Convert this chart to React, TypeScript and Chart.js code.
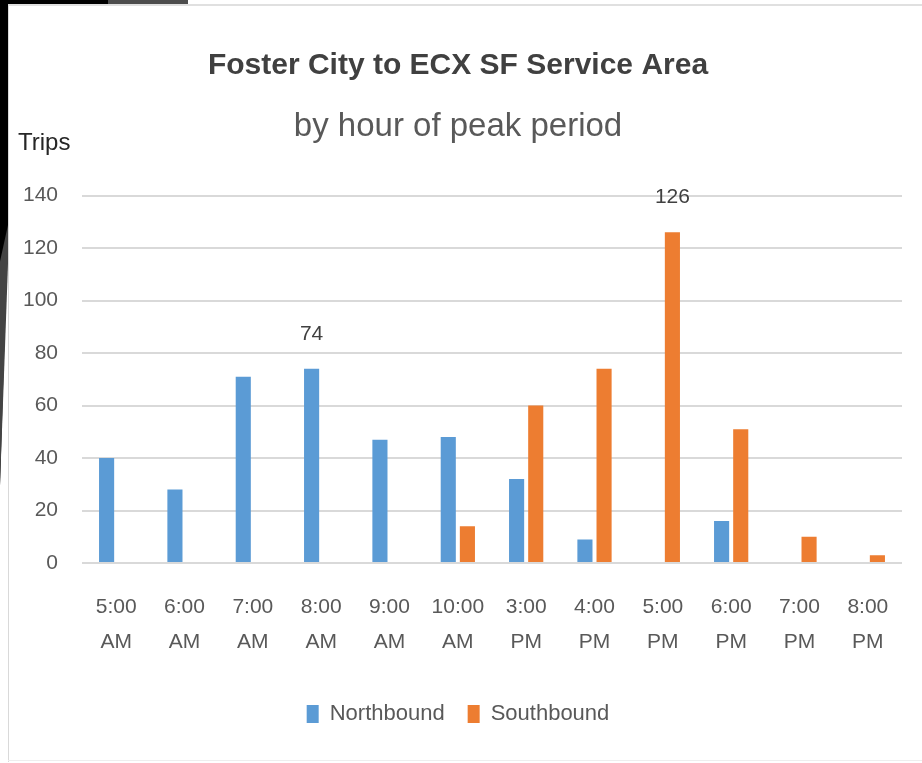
import React, { useEffect, useRef } from "react";
import { Chart, registerables } from "chart.js";

Chart.register(...registerables);

const categories: string[][] = [
  ["5:00", "AM"], ["6:00", "AM"], ["7:00", "AM"], ["8:00", "AM"], ["9:00", "AM"], ["10:00", "AM"],
  ["3:00", "PM"], ["4:00", "PM"], ["5:00", "PM"], ["6:00", "PM"], ["7:00", "PM"], ["8:00", "PM"],
];
const northbound = [40, 28, 71, 74, 47, 48, 32, 9, 0, 16, 0, 0];
const southbound = [0, 0, 0, 0, 0, 14, 60, 74, 126, 51, 10, 3];
const seriesNames = ["Northbound", "Southbound"];
const labelledPoints = [
  { dataset: 0, index: 3 },
  { dataset: 1, index: 8 },
];
const yMin = 0;
const yMax = 140;
const yStep = 20;

const FONT = "'Liberation Sans', Arial, sans-serif";

export default function App() {
  const ref = useRef<HTMLCanvasElement | null>(null);

  useEffect(() => {
    if (!ref.current) return;
    const extras = {
      id: "extras",
      afterDatasetsDraw(chart: any) {
        const ctx = chart.ctx;
        const area = chart.chartArea;
        ctx.save();
        ctx.fillStyle = "#404040";
        ctx.font = `21px ${FONT}`;
        ctx.textAlign = "center";
        ctx.textBaseline = "middle";
        labelledPoints.forEach((p) => {
          const el = chart.getDatasetMeta(p.dataset).data[p.index];
          const v = chart.data.datasets[p.dataset].data[p.index];
          ctx.fillText(String(v), el.x, el.y - 35);
        });
        ctx.fillStyle = "#262626";
        ctx.font = `24px ${FONT}`;
        ctx.textAlign = "left";
        ctx.fillText("Trips", area.left - 64, area.top - 52);
        ctx.restore();
      },
    };

    const chart = new Chart(ref.current, {
      type: "bar",
      data: {
        labels: categories,
        datasets: [
          {
            label: seriesNames[0],
            data: northbound,
            backgroundColor: "#5B9BD5",
            categoryPercentage: 0.56,
            barPercentage: 0.79,
          },
          {
            label: seriesNames[1],
            data: southbound,
            backgroundColor: "#ED7D31",
            categoryPercentage: 0.56,
            barPercentage: 0.79,
          },
        ],
      },
      options: {
        animation: false,
        responsive: false,
        maintainAspectRatio: false,
        layout: { padding: { left: 0, right: 20, top: 0, bottom: 28 } },
        plugins: {
          title: {
            display: true,
            text: "Foster City to ECX SF Service Area",
            color: "#404040",
            font: { family: FONT, size: 30, weight: "bold", lineHeight: 1.2 },
            padding: { top: 48, bottom: 9 },
          },
          subtitle: {
            display: true,
            text: "by hour of peak period",
            color: "#595959",
            font: { family: FONT, size: 33, weight: "normal", lineHeight: 1.2 },
            padding: { top: 14, bottom: 49 },
          },
          legend: {
            position: "bottom",
            labels: {
              boxWidth: 12,
              boxHeight: 18,
              padding: 23,
              color: "#595959",
              font: { family: FONT, size: 22 },
            },
          },
          tooltip: { enabled: false },
        },
        scales: {
          x: {
            grid: { display: false, drawTicks: false },
            border: { display: false },
            ticks: {
              color: "#595959",
              padding: 27,
              maxRotation: 0,
              autoSkip: false,
              font: { family: FONT, size: 21, lineHeight: 1.65 },
            },
            afterFit: (s: any) => {
              s.height = 117;
            },
          },
          y: {
            min: yMin,
            max: yMax,
            grid: { color: "#d9d9d9", lineWidth: 2, drawTicks: false },
            border: { display: false },
            ticks: {
              stepSize: yStep,
              color: "#595959",
              padding: 24,
              font: { family: FONT, size: 21 },
            },
            afterFit: (s: any) => {
              s.width = 68;
            },
          },
        },
      },
      plugins: [extras],
    });
    return () => chart.destroy();
  }, []);

  return (
    <div style={{ position: "fixed", left: 0, top: 0, width: 922, height: 763, background: "#fff", overflow: "hidden" }}>
      <canvas ref={ref} width={908} height={763} style={{ position: "absolute", left: 14, top: 0, width: 908, height: 763 }} />
      <div style={{ position: "absolute", left: 0, top: 0, width: 108, height: 4, background: "#000" }} />
      <div style={{ position: "absolute", left: 108, top: 0, width: 80, height: 4, background: "#4d4d4d" }} />
      <div style={{ position: "absolute", left: 8, top: 4, width: 914, height: 2, background: "#e0e0e0" }} />
      <div style={{ position: "absolute", left: 8, top: 4, width: 1, height: 758, background: "#d9d9d9" }} />
      <div style={{ position: "absolute", left: 8, top: 760, width: 914, height: 1, background: "#eeeeee" }} />
      <div style={{ position: "absolute", left: 0, top: 0, width: 8, height: 490, background: "#000", clipPath: "polygon(0 0, 100% 0, 100% 47%, 0 99%)" }} />
      <div style={{ position: "absolute", left: 0, top: 225, width: 8, height: 260, background: "#444", clipPath: "polygon(100% 0, 100% 15%, 0 100%, 0 14%)" }} />
    </div>
  );
}
